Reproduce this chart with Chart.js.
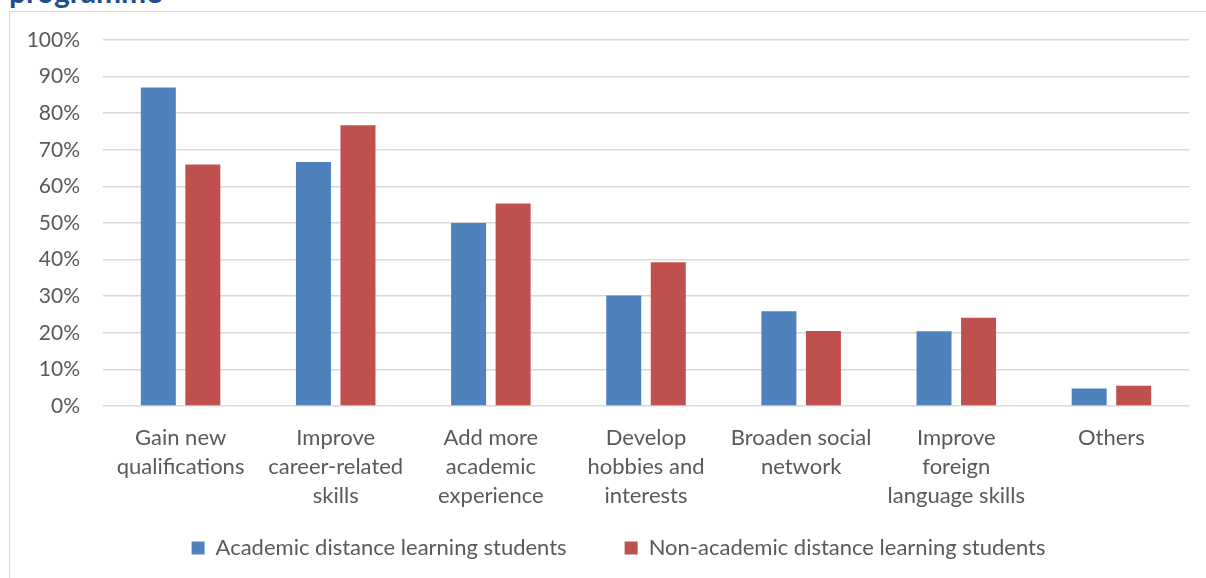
<!DOCTYPE html>
<html>
<head>
<meta charset="utf-8">
<script src="https://cdn.jsdelivr.net/npm/chart.js@4/dist/chart.umd.min.js"></script>
<style>
  body { margin: 0; background: #fff; overflow: hidden; }
  #title { position: absolute; left: 9px; top: -24px; font: bold 30px Lato, sans-serif; line-height: 30px; color: #1f4e8c; }
  #frame { position: absolute; left: 9px; top: 11px; width: 1210px; height: 580px; border: 1px solid #d9d9d9; }
  #chart { position: absolute; left: 0; top: 0; }
</style>
</head>
<body>
<div id="title">programme</div>
<div id="frame"></div>
<canvas id="chart" width="1206" height="578"></canvas>
<script>
// categories (x axis labels, wrapped as in the original)
const categories = [
    ['Gain new', 'qualifications'],
    ['Improve', 'career-related', 'skills'],
    ['Add more', 'academic', 'experience'],
    ['Develop', 'hobbies and', 'interests'],
    ['Broaden social', 'network'],
    ['Improve', 'foreign', 'language skills'],
    ['Others']
];

// series values in percent
const academicValues = [87, 66.7, 50, 30.2, 25.9, 20.4, 4.8];
const nonAcademicValues = [66, 76.7, 55.3, 39.3, 20.5, 24.1, 5.5];

const seriesNames = ['Academic distance learning students', 'Non-academic distance learning students'];

const textColor = '#595959';
const fontFamily = 'Lato, sans-serif';

// axes are sized tightly so the legend sits where it should; let their labels draw outside
const unclipLabels = {
    id: 'unclipLabels',
    afterLayout(chart) {
        chart.scales.x.bottom = chart.height;
        chart.scales.y.left = 0;
    }
};

new Chart(document.getElementById('chart'), {
    type: 'bar',
    data: {
        labels: categories,
        datasets: [{
            label: seriesNames[0],
            data: academicValues,
            backgroundColor: '#4f81bd',
            categoryPercentage: 0.574,
            barPercentage: 0.786
        }, {
            label: seriesNames[1],
            data: nonAcademicValues,
            backgroundColor: '#c0504d',
            categoryPercentage: 0.574,
            barPercentage: 0.786
        }]
    },
    options: {
        responsive: false,
        animation: false,
        layout: {
            padding: { left: 48, right: 17, top: 40, bottom: 9 }
        },
        plugins: {
            tooltip: { enabled: false },
            legend: {
                position: 'bottom',
                labels: {
                    color: textColor,
                    font: { family: fontFamily, size: 22 },
                    boxWidth: 13,
                    boxHeight: 13,
                    padding: 58
                }
            }
        },
        scales: {
            x: {
                grid: { display: false },
                border: { display: false },
                ticks: {
                    color: textColor,
                    font: { family: fontFamily, size: 22, lineHeight: 1.32 },
                    padding: 9,
                    maxRotation: 0,
                    autoSkip: false
                },
                afterFit: function(scale) { scale.height = 73; }
            },
            y: {
                min: 0,
                max: 100,
                grid: { color: '#d9d9d9', lineWidth: 1.5, drawTicks: false },
                border: { display: false },
                ticks: {
                    stepSize: 10,
                    color: textColor,
                    font: { family: fontFamily, size: 21 },
                    padding: 23,
                    callback: function(v) { return v + '%'; }
                },
                afterFit: function(scale) { scale.width = 55; }
            }
        }
    },
    plugins: [unclipLabels]
});
</script>
</body>
</html>
